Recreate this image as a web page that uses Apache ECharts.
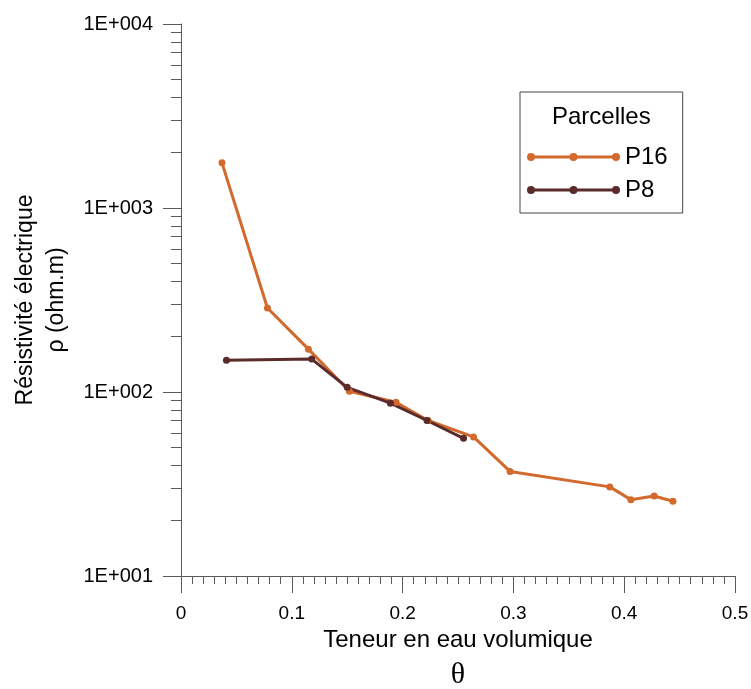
<!DOCTYPE html>
<html>
<head>
<meta charset="utf-8">
<script src="https://cdn.jsdelivr.net/npm/echarts@6/dist/echarts.min.js"></script>
<style>
  html, body { margin: 0; padding: 0; background: #fff; }
  #chart { width: 751px; height: 689px; }
</style>
</head>
<body>
<div id="chart"></div>
<script>
// values
const seriesNames = ['P16', 'P8'];
const p16Theta = [0.037, 0.078, 0.115, 0.152, 0.194, 0.223, 0.264, 0.297, 0.387, 0.406, 0.427, 0.444];
const p16Rho = [1760, 286, 171, 101, 88, 70, 57, 37, 30.5, 26, 27.2, 25.5];
const p8Theta = [0.041, 0.118, 0.150, 0.189, 0.222, 0.255];
const p8Rho = [149, 151, 106, 87, 70, 56];
const minorRho = [2, 3, 4, 5, 6, 7, 8, 9, 20, 30, 40, 50, 60, 70, 80, 90,
  200, 300, 400, 500, 600, 700, 800, 900, 2000, 3000, 4000, 5000, 6000, 7000, 8000, 9000];

const font = "'Liberation Sans', Arial, sans-serif";
const axisGray = '#5a5a5a';
const colors = { P16: '#d2692d', P8: '#5b2b2b' };

// legend icon: line with three dots (all sub-paths clockwise so nothing cancels)
const legendIcon = 'path://M4,3.5L89,3.5L89,6.5L4,6.5Z' +
  'M0,5A4,4,0,1,1,8,5A4,4,0,1,1,0,5Z' +
  'M42.5,5A4,4,0,1,1,50.5,5A4,4,0,1,1,42.5,5Z' +
  'M85,5A4,4,0,1,1,93,5A4,4,0,1,1,85,5Z';

const zip = (xs, ys) => xs.map((x, i) => [x, ys[i]]);

const chart = echarts.init(document.getElementById('chart'), null, { renderer: 'canvas' });

const makeSeries = (name, data) => ({
  name: name,
  type: 'line',
  data: data,
  symbol: 'circle',
  symbolSize: 7,
  color: colors[name],
  lineStyle: { width: 3, color: colors[name] },
  itemStyle: { color: colors[name] },
  emphasis: { disabled: true },
  animation: false
});

const option = {
  backgroundColor: '#fff',
  textStyle: { fontFamily: font },
  grid: { left: 181, right: 16, top: 24, bottom: 113, outerBoundsMode: 'none', containLabel: false },
  graphic: [{
    type: 'text',
    left: 552,
    top: 105,
    style: { text: 'Parcelles', font: "24px 'Liberation Sans', Arial, sans-serif", fill: '#000' }
  }],
  legend: {
    data: seriesNames,
    orient: 'vertical',
    left: 520,
    top: 92,
    padding: [53, 15, 11, 7],
    itemGap: 9,
    itemWidth: 93,
    itemHeight: 10,
    icon: legendIcon,
    borderColor: '#444',
    borderWidth: 1,
    itemStyle: { borderWidth: 0 },
    textStyle: { fontSize: 24, color: '#000', fontFamily: font },
    selectedMode: false
  },
  xAxis: {
    type: 'value',
    min: 0,
    max: 0.5,
    interval: 0.1,
    name: '{a|Teneur en eau volumique}\n{b|θ}',
    nameLocation: 'middle',
    nameGap: 47,
    nameTextStyle: {
      rich: {
        a: { fontSize: 24, lineHeight: 34, fontFamily: font, color: '#000' },
        b: { fontSize: 30, lineHeight: 36, fontFamily: "'Liberation Serif', 'Times New Roman', serif", color: '#000' }
      }
    },
    axisLine: { show: true, lineStyle: { color: axisGray, width: 1 } },
    axisTick: { show: true, length: 17, lineStyle: { color: axisGray } },
    minorTick: { show: true, splitNumber: 10, length: 8, lineStyle: { color: axisGray } },
    axisLabel: {
      margin: 28, fontSize: 19, color: '#000', fontFamily: font,
      formatter: v => String(Math.round(v * 10) / 10)
    },
    splitLine: { show: false },
    minorSplitLine: { show: false }
  },
  yAxis: [{
    type: 'log',
    logBase: 10,
    min: 10,
    max: 10000,
    name: 'Résistivité électrique\nρ (ohm.m)',
    nameLocation: 'middle',
    nameRotate: 90,
    nameGap: 104,
    nameTextStyle: { fontSize: 23, lineHeight: 31, color: '#000', fontFamily: font },
    axisLine: { show: true, lineStyle: { color: axisGray, width: 1 } },
    axisTick: { show: true, length: 18, lineStyle: { color: axisGray } },
    axisLabel: {
      margin: 28, fontSize: 20, color: '#000', fontFamily: font,
      formatter: v => '1E+' + String(Math.round(Math.log10(v))).padStart(3, '0')
    },
    splitLine: { show: false }
  }, {
    type: 'log',
    logBase: 10,
    min: 10,
    max: 10000,
    position: 'left',
    axisLine: { show: false },
    axisTick: { show: true, length: 10, customValues: minorRho, lineStyle: { color: axisGray } },
    axisLabel: { show: false },
    splitLine: { show: false }
  }],
  series: [
    makeSeries('P16', zip(p16Theta, p16Rho)),
    makeSeries('P8', zip(p8Theta, p8Rho))
  ]
};

chart.setOption(option);
</script>
</body>
</html>
